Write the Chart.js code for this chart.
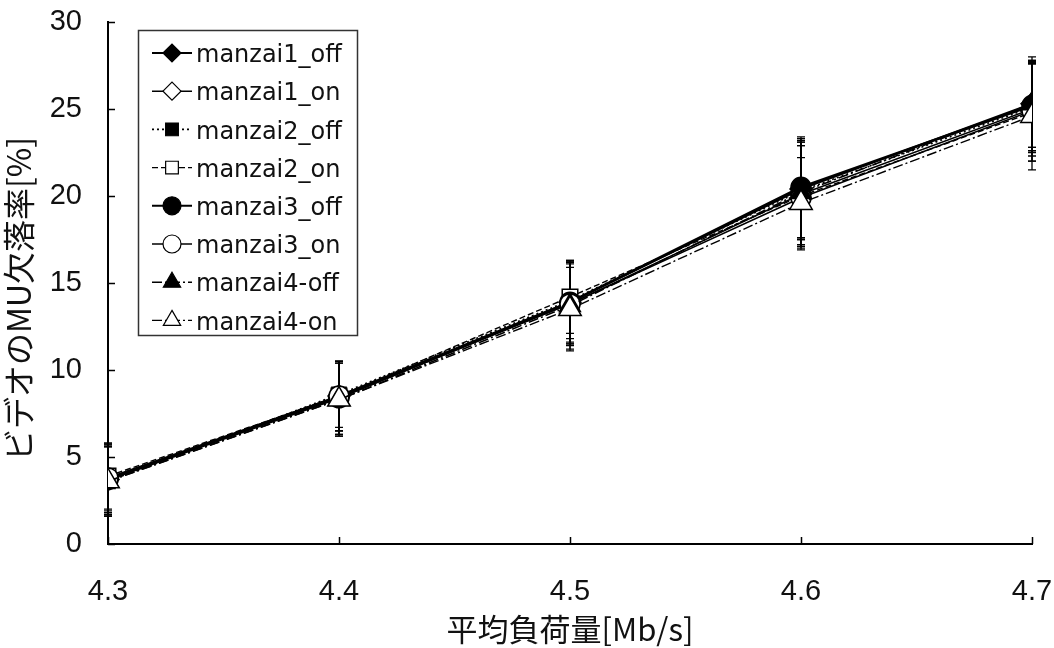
<!DOCTYPE html>
<html>
<head>
<meta charset="utf-8">
<script src="https://cdn.jsdelivr.net/npm/chart.js@4/dist/chart.umd.min.js"></script>
<style>
  html, body { margin: 0; padding: 0; background: #fff; }
  #wrap { width: 1054px; height: 648px; }
</style>
</head>
<body>
<div id="wrap"><canvas id="mu-chart" width="1054" height="648"></canvas></div>
<script>
// 平均負荷量 [Mb/s]
const loads = [4.3, 4.4, 4.5, 4.6, 4.7];

const seriesNames = ['manzai1_off', 'manzai1_on', 'manzai2_off', 'manzai2_on',
                     'manzai3_off', 'manzai3_on', 'manzai4-off', 'manzai4-on'];

// MU欠落率 [%]
const manzai1Off = [3.7, 8.5, 13.9, 20.4, 25.3];
const manzai1On  = [3.8, 8.4, 13.8, 20.1, 25.0];
const manzai2Off = [3.6, 8.6, 14.0, 20.3, 25.1];
const manzai2On  = [3.9, 8.5, 14.2, 20.0, 24.8];
const manzai3Off = [3.7, 8.4, 13.9, 20.5, 25.2];
const manzai3On  = [3.8, 8.5, 13.8, 19.9, 24.9];
const manzai4Off = [3.6, 8.3, 13.7, 20.2, 25.3];
const manzai4On  = [3.6, 8.3, 13.5, 19.6, 24.6];

// 誤差 (±)
const err1Off = [1.9, 2.0, 2.3, 2.9, 2.5];
const err1On  = [2.0, 2.1, 2.4, 3.0, 2.7];
const err2Off = [2.0, 1.9, 2.2, 2.8, 2.6];
const err2On  = [1.9, 2.0, 2.1, 2.9, 2.8];
const err3Off = [2.0, 2.1, 2.4, 2.9, 2.4];
const err3On  = [1.9, 2.0, 2.3, 3.0, 2.9];
const err4Off = [2.0, 2.1, 2.5, 3.0, 2.7];
const err4On  = [2.0, 2.1, 2.4, 2.6, 3.1];

const yTicks = [0, 5, 10, 15, 20, 25, 30];
const xTicks = [4.3, 4.4, 4.5, 4.6, 4.7];

const values = [manzai1Off, manzai1On, manzai2Off, manzai2On, manzai3Off, manzai3On, manzai4Off, manzai4On];
const errors = [err1Off, err1On, err2Off, err2On, err3Off, err3On, err4Off, err4On];

// 線種とマーカー
const styles = [
  { pointStyle: 'rectRot',  filled: true,  width: 2.2, dash: [],            radius: 11 },
  { pointStyle: 'rectRot',  filled: false, width: 1.4, dash: [],            radius: 10 },
  { pointStyle: 'rect',     filled: true,  width: 1.6, dash: [2, 3],        radius: 10 },
  { pointStyle: 'rect',     filled: false, width: 1.4, dash: [6, 3],        radius: 11 },
  { pointStyle: 'circle',   filled: true,  width: 2.6, dash: [],            radius: 10 },
  { pointStyle: 'circle',   filled: false, width: 1.6, dash: [],            radius: 10 },
  { pointStyle: 'triangle', filled: true,  width: 1.6, dash: [10, 3, 2, 3], radius: 12 },
  { pointStyle: 'triangle', filled: false, width: 1.4, dash: [10, 3, 2, 3], radius: 13 }
];

const datasets = seriesNames.map((name, i) => ({
  label: name,
  data: loads.map((x, j) => ({ x: x, y: values[i][j] })),
  errors: errors[i],
  borderColor: '#000',
  borderWidth: styles[i].width,
  borderDash: styles[i].dash,
  pointStyle: styles[i].pointStyle,
  pointRadius: styles[i].radius,
  pointBorderWidth: 1.5,
  pointBackgroundColor: styles[i].filled ? '#000' : '#fff',
  pointBorderColor: '#000',
  tension: 0,
  order: seriesNames.length - 1 - i
}));

// 誤差棒 (マーカーの下に描く)
const errorBars = {
  id: 'errorBars',
  beforeDatasetsDraw(chart) {
    const ctx = chart.ctx;
    const yScale = chart.scales.y;
    ctx.save();
    ctx.strokeStyle = '#000';
    ctx.lineWidth = 1.3;
    chart.data.datasets.forEach((ds, i) => {
      const meta = chart.getDatasetMeta(i);
      meta.data.forEach((pt, j) => {
        const v = ds.data[j].y, e = ds.errors[j];
        const top = yScale.getPixelForValue(v + e);
        const bot = yScale.getPixelForValue(v - e);
        ctx.beginPath();
        ctx.moveTo(pt.x, top); ctx.lineTo(pt.x, bot);
        ctx.moveTo(pt.x - 4, top); ctx.lineTo(pt.x + 4, top);
        ctx.moveTo(pt.x - 4, bot); ctx.lineTo(pt.x + 4, bot);
        ctx.stroke();
      });
    });
    ctx.restore();
  }
};

// 内向きの目盛り線
const innerTicks = {
  id: 'innerTicks',
  afterDraw(chart) {
    const ctx = chart.ctx;
    const { x, y } = chart.scales;
    const area = chart.chartArea;
    ctx.save();
    ctx.strokeStyle = '#000';
    ctx.lineWidth = 1.5;
    ctx.beginPath();
    yTicks.forEach(t => {
      const py = Math.round(y.getPixelForValue(t)) + 0.5;
      ctx.moveTo(area.left, py); ctx.lineTo(area.left + 7, py);
    });
    xTicks.forEach(t => {
      const px = Math.round(x.getPixelForValue(t)) + 0.5;
      ctx.moveTo(px, area.bottom); ctx.lineTo(px, area.bottom - 7);
    });
    ctx.stroke();
    ctx.restore();
  }
};

// 凡例 (グラフ内の枠)
const boxLegend = {
  id: 'boxLegend',
  afterDraw(chart) {
    const ctx = chart.ctx;
    const left = 138, top = 30, w = 219, h = 305, rowH = 38.2;
    ctx.save();
    ctx.fillStyle = '#fff';
    ctx.fillRect(left, top, w, h);
    ctx.strokeStyle = '#333';
    ctx.lineWidth = 1.5;
    ctx.strokeRect(left + 0.5, top + 0.5, w, h);
    chart.data.datasets.forEach((ds, i) => {
      const cy = top + 23 + i * rowH;
      ctx.strokeStyle = '#000';
      ctx.lineWidth = Math.min(ds.borderWidth, 2);
      ctx.setLineDash(ds.borderDash);
      ctx.beginPath();
      ctx.moveTo(left + 14, cy); ctx.lineTo(left + 54, cy);
      ctx.stroke();
      ctx.setLineDash([]);
      ctx.fillStyle = ds.pointBackgroundColor;
      ctx.lineWidth = 1.2;
      Chart.helpers.drawPoint(ctx, { pointStyle: ds.pointStyle, radius: ds.pointStyle === 'triangle' ? 10 : 9, borderWidth: 1.2, rotation: 0 }, left + 34, cy);
      ctx.fillStyle = '#111';
      ctx.font = '24px "DejaVu Sans"';
      ctx.textBaseline = 'middle';
      ctx.fillText(ds.label, left + 58, cy + 3);
    });
    ctx.restore();
  }
};

new Chart(document.getElementById('mu-chart'), {
  type: 'line',
  data: { datasets: datasets },
  plugins: [errorBars, innerTicks, boxLegend],
  options: {
    responsive: false,
    animation: false,
    layout: { padding: { top: 22, right: 22, left: 0, bottom: 0 } },
    plugins: { legend: { display: false }, tooltip: { enabled: false } },
    scales: {
      x: {
        type: 'linear',
        min: 4.3, max: 4.7,
        afterBuildTicks: s => { s.ticks = xTicks.map(v => ({ value: v })); },
        afterFit: s => { s.height = 104; s.paddingLeft = 0; s.paddingRight = 0; },
        border: { color: '#000', width: 2 },
        grid: { display: false },
        ticks: {
          padding: 23,
          maxRotation: 0,
          color: '#111',
          font: { family: '"Liberation Sans", Arial', size: 29 },
          callback: v => v.toFixed(1)
        },
        title: {
          display: true,
          text: '平均負荷量[Mb/s]',
          color: '#111',
          font: { family: '"Noto Sans CJK JP"', size: 31 },
          padding: { top: 0, bottom: 0 }
        }
      },
      y: {
        min: 0, max: 30,
        afterBuildTicks: s => { s.ticks = yTicks.map(v => ({ value: v })); },
        afterFit: s => { s.width = 108; s.paddingTop = 0; s.paddingBottom = 0; },
        border: { color: '#000', width: 2 },
        grid: { display: false },
        ticks: {
          padding: 18,
          color: '#111',
          font: { family: '"Liberation Sans", Arial', size: 29 }
        },
        title: {
          display: true,
          text: 'ビデオのMU欠落率[%]\u3000',
          color: '#111',
          font: { family: '"Noto Sans CJK JP"', size: 32 },
          padding: { top: 0, bottom: 0 }
        }
      }
    }
  }
});
</script>
</body>
</html>
